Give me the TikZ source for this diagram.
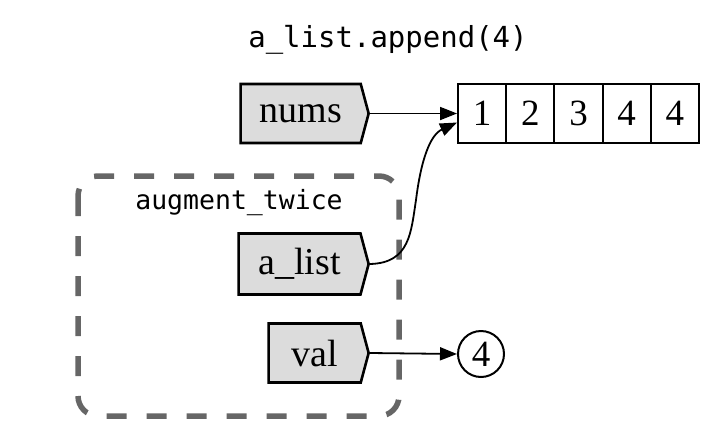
\documentclass[tikz,border=0pt]{standalone}
\usepackage{fontspec}
\setmainfont{Liberation Serif}
\setmonofont{DejaVu Sans Mono}
\usetikzlibrary{shapes.symbols,arrows.meta}
\definecolor{nodefill}{HTML}{DCDCDC}
\definecolor{clustergray}{HTML}{666666}
\begin{document}
\begin{tikzpicture}[x=1pt,y=-1pt,
  var/.style={signal, signal to=east, signal pointer angle=150, draw=black,
    line width=2.6pt, fill=nodefill, minimum height=59pt, inner sep=0pt,
    anchor=east, font=\fontsize{38}{42}\selectfont},
  cell/.style={rectangle, draw=black, line width=2pt, minimum width=48.2pt,
    minimum height=59pt, inner sep=0pt, font=\fontsize{37}{40}\selectfont},
  valnode/.style={circle, draw=black, line width=2pt, minimum size=46pt,
    inner sep=0pt, font=\fontsize{37}{40}\selectfont},
  arr/.style={line width=1.8pt, -{Triangle[length=17pt,width=13pt]}},
  cluster/.style={draw=clustergray, line width=5.5pt, rounded corners=20pt,
    dash pattern=on 20pt off 20pt},
  codetext/.style={font=\ttfamily\fontsize{29}{32}\selectfont}
]
\useasboundingbox (0,0) rectangle (721,440);
\draw[cluster] (78,176) rectangle (399,416);
\node[codetext] (title) at (388,40) {a\_list.append(4)};
\node[codetext, font=\ttfamily\fontsize{26.5}{30}\selectfont] (clabel) at (239,203) {augment\_twice};
\node[var, minimum width=128pt] (nums) at (370,113.5) {nums};
\node[var, minimum width=130pt, minimum height=61pt] (alist) at (370,264) {a\_list};
\node[var, minimum width=100pt] (val) at (370,353) {val};
\node[cell] (c1) at (482.1,113.5) {1};
\node[cell] (c2) at (530.3,113.5) {2};
\node[cell] (c3) at (578.5,113.5) {3};
\node[cell] (c4) at (626.7,113.5) {4};
\node[cell] (c5) at (674.9,113.5) {4};
\node[valnode] (v4) at (481,354) {4};
\draw[arr] (nums.east) -- (c1.west);
\draw[arr] (alist.east) .. controls (410,263) and (411,232) .. (416,200)
  .. controls (421,160) and (430,135) .. ([yshift=-9pt]c1.west);
\draw[arr] (val.east) -- (v4.west);
\end{tikzpicture}
\end{document}
